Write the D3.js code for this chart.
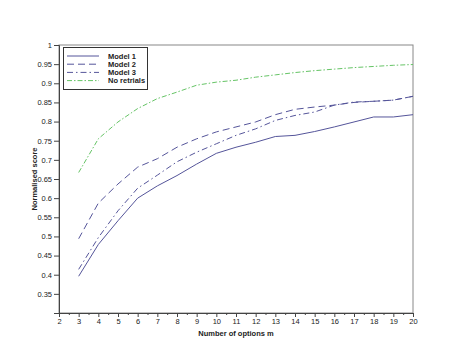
<!DOCTYPE html>
<html><head><meta charset="utf-8">
<script src="https://cdn.jsdelivr.net/npm/d3@7"></script>
<style>body{margin:0;background:#fff}svg{display:block}text{font-family:"Liberation Sans",Arial,sans-serif}</style>
</head><body>
<script>
const xs = [3,4,5,6,7,8,9,10,11,12,13,14,15,16,17,18,19,20];
const model1 = [0.396,0.479,0.541,0.600,0.632,0.659,0.689,0.717,0.733,0.746,0.761,0.764,0.774,0.786,0.799,0.812,0.812,0.818];
const model2 = [0.494,0.587,0.637,0.681,0.703,0.733,0.755,0.773,0.786,0.799,0.818,0.832,0.838,0.843,0.850,0.853,0.856,0.866];
const model3 = [0.414,0.497,0.567,0.626,0.660,0.695,0.720,0.742,0.764,0.781,0.803,0.816,0.825,0.843,0.851,0.853,0.856,0.866];
const noRetrials = [0.667,0.755,0.799,0.834,0.860,0.877,0.895,0.903,0.908,0.916,0.922,0.928,0.933,0.937,0.941,0.944,0.947,0.949];
const seriesNames = ["Model 1","Model 2","Model 3","No retrials"];
const xTicks = d3.range(2,21);
const yTicks = [0.35,0.4,0.45,0.5,0.55,0.6,0.65,0.7,0.75,0.8,0.85,0.9,0.95,1];
const xLabel = "Number of options m";
const yLabel = "Normalised score";

const W=474,H=357;
const L=59,R=413,T=45,B=313;
const svg=d3.select("body").append("svg").attr("width",W).attr("height",H);
const x=d3.scaleLinear().domain([2,20]).range([L,R]);
const y=d3.scaleLinear().domain([0.3,1]).range([B,T]);
const axisCol="#444";

// frame
svg.append("rect").attr("x",L).attr("y",T).attr("width",R-L).attr("height",B-T)
  .attr("fill","none").attr("stroke","#888").attr("stroke-width",1);

// x axis
const xa=svg.append("g").attr("transform",`translate(0,${B})`)
  .call(d3.axisBottom(x).tickValues(xTicks).tickFormat(d3.format("d")).tickSize(4).tickPadding(2));
svg.append("g").attr("transform",`translate(0,${B})`)
  .call(d3.axisBottom(x).tickValues(d3.range(2.5,20,1)).tickFormat("").tickSize(2))
  .select(".domain").remove();
// y axis
const ya=svg.append("g").attr("transform",`translate(${L},0)`)
  .call(d3.axisLeft(y).tickValues(yTicks).tickFormat(d=>d===1?"1":d3.format("")(+d.toFixed(2))).tickSize(5).tickPadding(2));
svg.selectAll(".tick text").attr("font-size",7.5).attr("fill","#222");
svg.selectAll(".domain,.tick line").attr("stroke",axisCol);

svg.append("text").attr("x",(L+R)/2).attr("y",336).attr("text-anchor","middle")
  .attr("font-size",7.5).attr("font-weight","bold").attr("fill","#222").text(xLabel);
svg.append("text").attr("transform",`translate(37,${(T+B)/2}) rotate(-90)`).attr("text-anchor","middle")
  .attr("font-size",7.5).attr("font-weight","bold").attr("fill","#222").text(yLabel);

const series=[
  {name:seriesNames[0],vals:model1,color:"#55559a",dash:null},
  {name:seriesNames[1],vals:model2,color:"#55559a",dash:"7,4"},
  {name:seriesNames[2],vals:model3,color:"#55559a",dash:"6,3,1.5,3"},
  {name:seriesNames[3],vals:noRetrials,color:"#66c466",dash:"5,2,1.5,2"}
];
const line=d3.line().x((d,i)=>x(xs[i])).y(d=>y(d));
series.forEach(s=>{
  svg.append("path").datum(s.vals).attr("d",line).attr("fill","none")
    .attr("stroke",s.color).attr("stroke-width",1).attr("stroke-dasharray",s.dash);
});

// legend
const lg=svg.append("g");
lg.append("rect").attr("x",63.5).attr("y",47.5).attr("width",84).attr("height",42)
  .attr("fill","#fff").attr("stroke","#333").attr("stroke-width",1);
series.forEach((s,i)=>{
  const yy=56+i*8.2;
  lg.append("line").attr("x1",67).attr("x2",99).attr("y1",yy).attr("y2",yy)
    .attr("stroke",s.color).attr("stroke-width",1).attr("stroke-dasharray",s.dash);
  lg.append("text").attr("x",108).attr("y",yy+2.7).attr("font-size",7.5).attr("font-weight","bold")
    .attr("fill","#222").text(s.name);
});
</script>
</body></html>
